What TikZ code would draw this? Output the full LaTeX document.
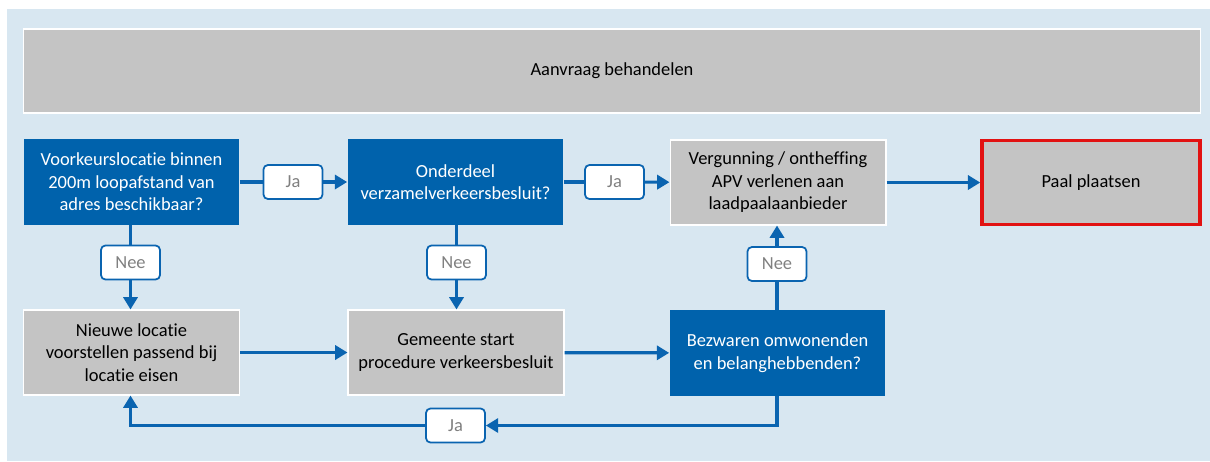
\documentclass[tikz,border=0pt]{standalone}
\usepackage{fontspec}
\setmainfont{Carlito}[Ligatures=NoCommon]
\usepackage{xcolor}
\usetikzlibrary{arrows.meta}
\definecolor{bgblue}{RGB}{216,231,241}
\definecolor{boxblue}{RGB}{0,98,172}
\definecolor{boxgray}{RGB}{196,196,196}
\definecolor{linkblue}{RGB}{10,100,176}
\definecolor{labelgray}{RGB}{128,128,128}
\definecolor{stopred}{RGB}{226,18,18}

\begin{document}
\begin{tikzpicture}[x=0.02cm,y=-0.02cm,
  font=\fontsize{10.5}{12.8}\selectfont,
  question/.style={fill=boxblue,text=white,align=center,inner sep=0pt,
    minimum width=4.32cm,minimum height=1.72cm},
  task/.style={fill=boxgray,draw=white,line width=0.6pt,align=center,inner sep=0pt,
    minimum width=4.32cm,minimum height=1.7cm},
  answer/.style={fill=white,draw=linkblue,line width=1pt,rounded corners=2.5pt,
    text=labelgray,inner sep=0pt,minimum width=1.18cm,minimum height=0.68cm},
  link/.style={draw=linkblue,line width=1.8pt},
  flow/.style={link,-{Triangle[length=7pt,width=8pt]}}]
\useasboundingbox (0,0) rectangle (1210,461);
\fill[bgblue] (7,9) rectangle (1210,461); % background
%% boxes
\node[task,minimum width=23.56cm,minimum height=1.68cm] (request) at (612,71) {Aanvraag behandelen};
\node[question] (preferred) at (131.5,182) {Voorkeurslocatie binnen\\200m loopafstand van\\adres beschikbaar?};
\node[question] (collective) at (455.5,182) {Onderdeel\\verzamelverkeersbesluit?};
\node[task] (permit) at (778,182.5) {Vergunning / ontheffing\\APV verlenen aan\\laadpaalaanbieder};
\node[task,draw=stopred,line width=2pt,minimum width=4.36cm,minimum height=1.68cm] (place) at (1091,182.5) {Paal plaatsen};
\node[task] (newloc) at (131.5,352.5) {Nieuwe locatie\\voorstellen passend bij\\locatie eisen};
\node[task] (procedure) at (456,352.5) {Gemeente start\\procedure verkeersbesluit};
\node[question] (objection) at (777.5,353) {Bezwaren omwonenden\\en belanghebbenden?};
%% answers
\node[answer] (yesA) at (293,182) {Ja};
\node[answer] (yesB) at (614.5,182) {Ja};
\node[answer] (noA) at (130.5,262.5) {Nee};
\node[answer] (noB) at (456.5,262.5) {Nee};
\node[answer] (noC) at (777,264) {Nee};
\node[answer] (yesC) at (455.5,425.5) {Ja};
%% connectors
\draw[link] (preferred) -- (yesA); % A - Ja
\draw[flow] (yesA) -- (collective); % Ja - B
\draw[link] (collective) -- (yesB); % B - Ja
\draw[flow] (yesB) -- (permit); % Ja - C
\draw[flow] (permit) -- (place); % C - D
\draw[link] (preferred.south -| noA) -- (noA); % A - Nee
\draw[flow] (noA) -- (newloc.north -| noA); % Nee - E
\draw[link] (collective.south -| noB) -- (noB); % B - Nee
\draw[flow] (noB) -- (procedure.north -| noB); % Nee - F
\draw[flow] (newloc) -- (procedure); % E - F
\draw[flow] (procedure) -- (objection); % F - G
\draw[link] (objection.north -| noC) -- (noC); % G - Nee
\draw[flow] (noC) -- (permit.south -| noC); % Nee - C
\draw[flow] (objection.south -| noC) |- (yesC); % G - Ja
\draw[flow] (yesC) -| (newloc.south -| noA); % Ja - E
\end{tikzpicture}
\end{document}
